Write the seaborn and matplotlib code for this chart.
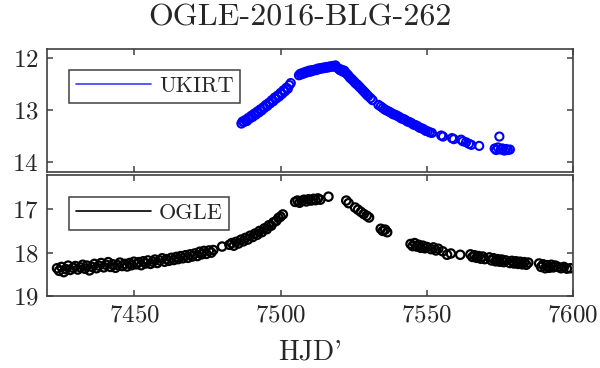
import matplotlib
matplotlib.use("Agg")
import matplotlib.pyplot as plt
from matplotlib.lines import Line2D
import pandas as pd
import seaborn as sns

# UKIRT light curve (HJD - 2450000, magnitude)
ukirt_t = [
    7486.6, 7487.0, 7487.5, 7488.0, 7488.5, 7489.0, 7489.5, 7490.0, 7490.5, 7491.0,
    7491.5, 7492.0, 7492.5, 7493.0, 7493.5, 7494.0, 7494.5, 7495.0, 7495.5, 7496.0,
    7496.5, 7497.0, 7497.5, 7498.0, 7498.5, 7499.0, 7499.5, 7500.0, 7500.5, 7501.0,
    7501.5, 7502.0, 7502.5, 7503.0, 7503.5,
    7506.3, 7506.8, 7507.3, 7507.8, 7508.3, 7508.8, 7509.3, 7509.8, 7510.3, 7510.8,
    7511.3, 7511.8, 7512.3, 7512.8, 7513.3, 7513.8, 7514.3, 7514.8, 7515.3, 7515.8,
    7516.3, 7516.8, 7517.3, 7517.8, 7518.3, 7518.8, 7519.3, 7519.8, 7520.3, 7520.8,
    7521.3,
    7521.8, 7522.3, 7522.8, 7523.3, 7523.8, 7524.3, 7524.8, 7525.3, 7525.8, 7526.3,
    7526.8, 7527.3, 7528.0, 7528.5, 7529.0, 7529.5, 7530.0, 7530.8, 7531.5, 7533.5,
    7534.3, 7535.0, 7535.7, 7536.4, 7537.1, 7537.8, 7538.5, 7539.2, 7539.9, 7540.6,
    7541.3, 7542.0, 7542.7, 7543.4, 7544.1, 7544.8, 7545.5, 7546.2, 7546.9, 7547.6,
    7548.3, 7549.0, 7549.7, 7550.4, 7551.1, 7551.8,
    7555.0, 7555.6, 7558.7, 7559.3, 7561.8, 7562.4, 7563.5, 7564.5, 7565.3, 7568.0,
    7573.3, 7573.8, 7574.4, 7574.9, 7575.4, 7576.0, 7576.6, 7577.2, 7577.8, 7578.5,
]
ukirt_mag = [
    13.26, 13.22, 13.23, 13.19, 13.21, 13.15, 13.16, 13.11, 13.13, 13.07,
    13.09, 13.03, 13.05, 12.99, 13.01, 12.95, 12.96, 12.90, 12.92, 12.86,
    12.87, 12.81, 12.83, 12.76, 12.78, 12.72, 12.74, 12.67, 12.69, 12.62,
    12.64, 12.57, 12.59, 12.52, 12.48,
    12.33, 12.30, 12.31, 12.28, 12.29, 12.26, 12.27, 12.24, 12.26, 12.23,
    12.24, 12.22, 12.23, 12.20, 12.21, 12.19, 12.20, 12.18, 12.19, 12.17,
    12.18, 12.16, 12.17, 12.15, 12.16, 12.14, 12.18, 12.20, 12.23, 12.22,
    12.26,
    12.24, 12.28, 12.31, 12.34, 12.38, 12.40, 12.43, 12.46, 12.49, 12.51,
    12.54, 12.57, 12.61, 12.64, 12.67, 12.70, 12.73, 12.77, 12.81, 12.90,
    12.93, 12.96, 12.99, 13.01, 13.03, 13.05, 13.08, 13.09, 13.11, 13.13,
    13.16, 13.17, 13.19, 13.22, 13.23, 13.25, 13.28, 13.29, 13.31, 13.34,
    13.35, 13.37, 13.40, 13.41, 13.43, 13.44,
    13.49, 13.51, 13.54, 13.56, 13.57, 13.60, 13.62, 13.65, 13.67, 13.69,
    13.74, 13.77, 13.72, 13.51, 13.76, 13.74, 13.78, 13.75, 13.77, 13.76,
]

# OGLE light curve (HJD - 2450000, magnitude)
ogle_t = [
    7423.5, 7424.2, 7425.0, 7425.8, 7426.5, 7427.3, 7428.0, 7429.0, 7429.8, 7430.6,
    7431.5, 7432.3, 7433.0, 7433.8, 7434.6, 7435.5, 7436.3, 7437.0, 7437.8, 7438.6,
    7439.5, 7440.3, 7441.0, 7441.8, 7442.6, 7443.5, 7444.3, 7445.0, 7445.8, 7446.7,
    7447.5, 7448.3, 7449.0, 7449.8, 7450.6, 7451.5, 7452.3, 7453.0, 7453.8, 7454.6,
    7455.5, 7456.3, 7457.0, 7457.8, 7458.6, 7459.5, 7460.3, 7461.0, 7461.8, 7462.6,
    7463.5, 7464.3, 7465.0, 7465.8, 7466.6, 7467.5, 7468.3, 7469.0, 7469.8, 7470.6,
    7471.5, 7472.3, 7473.0, 7473.8, 7474.6, 7475.5, 7476.3, 7477.0, 7480.0, 7482.5,
    7483.3, 7484.0, 7484.8, 7485.6, 7486.5, 7487.3, 7488.0, 7488.8, 7489.6, 7490.5,
    7491.3, 7492.0, 7492.8, 7493.6, 7494.5, 7495.3, 7496.0, 7496.8, 7497.6, 7498.5,
    7499.3, 7500.0, 7500.8,
    7505.0, 7505.8, 7506.5, 7507.3, 7508.0, 7508.8, 7509.6, 7510.5, 7511.3, 7512.0,
    7512.8, 7513.6, 7516.4,
    7522.5, 7523.3, 7525.5, 7526.5, 7527.5, 7528.5, 7529.5, 7530.3, 7534.3, 7535.0,
    7535.8, 7536.5,
    7544.5, 7545.2, 7545.9, 7546.6, 7547.3, 7548.0, 7548.7, 7549.4, 7550.1, 7551.5,
    7552.3, 7553.2, 7554.0, 7555.5, 7557.0, 7558.3, 7561.5, 7565.0, 7565.7, 7566.4,
    7567.1, 7567.8, 7568.5, 7569.2, 7569.9, 7571.5, 7572.2, 7572.9, 7573.6, 7574.3,
    7575.0, 7575.7, 7576.4, 7577.1, 7578.5, 7579.2, 7579.9, 7580.6, 7581.3, 7582.0,
    7582.7, 7583.4, 7584.1, 7584.8, 7588.5, 7589.2, 7589.9, 7590.6, 7591.3, 7592.0,
    7592.7, 7593.4, 7594.1, 7595.0, 7596.0, 7597.0, 7598.0, 7599.2,
]
ogle_mag = [
    18.36, 18.42, 18.33, 18.45, 18.38, 18.30, 18.40, 18.35, 18.31, 18.39,
    18.34, 18.28, 18.37, 18.30, 18.41, 18.33, 18.26, 18.36, 18.30, 18.24,
    18.34, 18.28, 18.22, 18.33, 18.27, 18.35, 18.29, 18.23, 18.31, 18.26,
    18.32, 18.24, 18.29, 18.21, 18.27, 18.22, 18.29, 18.20, 18.25, 18.18,
    18.26, 18.21, 18.16, 18.24, 18.18, 18.13, 18.21, 18.15, 18.19, 18.12,
    18.17, 18.10, 18.15, 18.08, 18.13, 18.06, 18.12, 18.04, 18.09, 18.02,
    18.08, 17.98, 18.04, 17.96, 18.03, 17.95, 18.00, 17.94, 17.86, 17.82,
    17.78, 17.84, 17.75, 17.79, 17.70, 17.74, 17.66, 17.70, 17.61, 17.64,
    17.56, 17.59, 17.50, 17.53, 17.44, 17.46, 17.37, 17.38, 17.30, 17.27,
    17.20, 17.17, 17.12,
    16.83, 16.80, 16.85, 16.81, 16.78, 16.82, 16.77, 16.80, 16.76, 16.79,
    16.75, 16.78, 16.71,
    16.80, 16.86, 16.96, 17.01, 17.06, 17.11, 17.15, 17.19, 17.45, 17.50,
    17.47, 17.53,
    17.80, 17.85, 17.78, 17.86, 17.82, 17.89, 17.84, 17.90, 17.87, 17.92,
    17.88, 17.95, 17.91, 17.97, 18.05, 18.02, 18.05, 18.04, 18.10, 18.06,
    18.12, 18.08, 18.14, 18.09, 18.15, 18.11, 18.18, 18.13, 18.20, 18.15,
    18.21, 18.16, 18.22, 18.18, 18.24, 18.19, 18.25, 18.20, 18.26, 18.21,
    18.27, 18.22, 18.28, 18.23, 18.25, 18.33, 18.27, 18.36, 18.29, 18.35,
    18.28, 18.34, 18.30, 18.33, 18.36, 18.33, 18.37, 18.36,
]

ukirt = pd.DataFrame({"t": ukirt_t, "mag": ukirt_mag})
ogle = pd.DataFrame({"t": ogle_t, "mag": ogle_mag})

sns.set_style("ticks")
plt.rcParams["font.family"] = ["cmr10", "DejaVu Serif"]
plt.rcParams["axes.formatter.use_mathtext"] = True
plt.rcParams["mathtext.fontset"] = "cm"

fig = plt.figure(figsize=(6.0, 3.68), dpi=100)
ax_top = fig.add_axes([0.078, 0.533, 0.8765, 0.333])
ax_bot = fig.add_axes([0.078, 0.1957, 0.8765, 0.3288])

spine_col = "#404040"

sns.scatterplot(data=ukirt, x="t", y="mag", ax=ax_top, marker="o", s=34,
                facecolors="none", edgecolor="#0000ff", linewidth=1.5)
sns.scatterplot(data=ogle, x="t", y="mag", ax=ax_bot, marker="o", s=36,
                facecolors="none", edgecolor="black", linewidth=1.6)

ax_top.set_xlim(7420, 7600)
ax_bot.set_xlim(7420, 7600)
ax_top.set_ylim(14.19, 11.83)
ax_bot.set_ylim(19.0, 16.21)
ax_top.set_yticks([12, 13, 14])
ax_bot.set_yticks([17, 18, 19])
for ax in (ax_top, ax_bot):
    ax.set_xticks([7450, 7500, 7550, 7600])
    ax.set_xlabel("")
    ax.set_ylabel("")
    ax.tick_params(direction="in", length=4, width=1.1, color=spine_col,
                   top=True, right=True, labelsize=18, pad=6)
    for sp in ax.spines.values():
        sp.set_visible(True)
        sp.set_color(spine_col)
        sp.set_linewidth(1.2)
ax_top.tick_params(labelbottom=False)

ax_bot.set_xlabel("HJD'", fontsize=20, labelpad=9)
fig.suptitle("OGLE-2016-BLG-262", fontsize=23, y=0.99)

leg_kw = dict(loc="upper left", fontsize=16, frameon=True, fancybox=False,
              borderaxespad=0, borderpad=0.3, handlelength=3.4,
              handletextpad=0.35, edgecolor=spine_col, framealpha=1)
l1 = ax_top.legend(handles=[Line2D([], [], color="#3a3aff", lw=1.2)],
                   labels=["UKIRT"], bbox_to_anchor=(0.042, 0.831), **leg_kw)
l1.get_frame().set_linewidth(1.1)
l2 = ax_bot.legend(handles=[Line2D([], [], color="black", lw=1.2)],
                   labels=["OGLE"], bbox_to_anchor=(0.042, 0.818), **leg_kw)
l2.get_frame().set_linewidth(1.1)

fig.savefig("out.png", dpi=100)
